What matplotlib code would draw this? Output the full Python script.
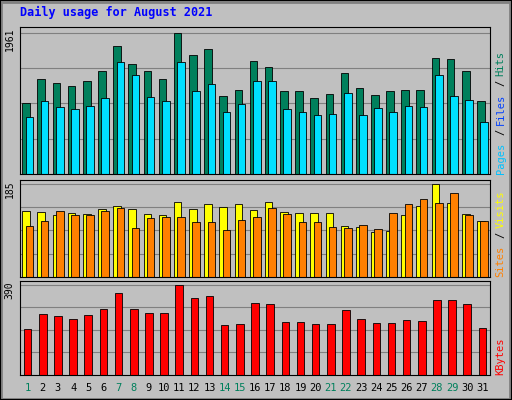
import matplotlib
matplotlib.use("Agg")
import matplotlib.pyplot as plt
import numpy as np
from matplotlib.patches import Rectangle

days = list(range(1, 32))
weekend = [1, 7, 8, 14, 15, 21, 22, 28, 29]
hits = [987,1321,1267,1227,1294,1427,1774,1521,1427,1321,1961,1654,1734,1080,1161,1561,1481,1147,1147,1054,1107,1401,1187,1094,1147,1161,1161,1614,1601,1427,1014]
files = [787,1014,934,907,947,1054,1547,1374,1067,1014,1547,1147,1254,867,974,1294,1294,907,854,814,827,1121,814,920,867,947,934,1374,1080,1027,720]
visits = [130,128,122,126,124,134,140,134,124,122,148,134,144,138,144,132,148,128,126,126,126,102,100,89,92,122,140,185,146,124,112]
sites = [102,112,130,122,122,130,136,98,118,120,120,110,110,94,114,120,136,124,110,110,100,98,104,96,126,144,155,146,167,122,112]
kbytes = [199,263,254,242,259,284,352,284,267,267,390,331,343,216,220,310,305,229,229,220,220,280,242,225,225,237,233,322,322,305,204]

W, H = 512, 400
fig = plt.figure(figsize=(W/100, H/100), dpi=100)
fig.patch.set_facecolor("#C0C0C0")
mono = "DejaVu Sans Mono"
# 3D border
fig.patches.append(Rectangle((1/W, 1/H), 1-3/W, 1-3/H, transform=fig.transFigure,
                             fill=False, edgecolor="#808080", lw=2))
fig.patches.append(Rectangle((0, 0), 1, 1, transform=fig.transFigure,
                             fill=False, edgecolor="black", lw=1.5))

def ax_px(x0, y0, x1, y1):
    return fig.add_axes([x0/W, 1-y1/H, (x1-x0)/W, (y1-y0)/H])

x = np.arange(1, 32)
def panel(y0, y1, series, cols, vmax, labels):
    ax = ax_px(20, y0, 490, y1)
    ax.set_facecolor("#C0C0C0")
    ax.set_xlim(0.5, 31.5)
    ax.set_ylim(0, vmax*1.04)
    for f in (0.25, 0.5, 0.75, 1.0):
        ax.axhline(vmax*f, color="#808080", lw=0.8, zorder=0)
    offs = [-0.1, 0.12] if len(series) == 2 else [0]
    for s, c, o in zip(series, cols, offs):
        ax.bar(x+o, s, width=0.5, color=c, edgecolor="black", lw=0.6, zorder=2)
    ax.set_xticks([]); ax.set_yticks([])
    for sp in ax.spines.values():
        sp.set_color("black"); sp.set_linewidth(0.8)
    ax.text(-0.012, 1.0, str(vmax), transform=ax.transAxes, rotation=90,
            ha="right", va="top", fontsize=7, family=mono)
    parts = []
    for i, (t, c) in enumerate(labels):
        parts.append((t, c))
        if i < len(labels)-1:
            parts.append(("/", "black"))
    pos = 0.0
    for t, c in parts:
        ax.text(1.012, pos, t, transform=ax.transAxes, rotation=90, ha="left",
                va="bottom", fontsize=7.5, family=mono, color=c)
        pos += len(t)*0.048 * (150/(y1-y0)) + 0.02*(150/(y1-y0))
    return ax

panel(27, 174, [hits, files], ["#00805C", "#00E0FF"], 1961,
      [("Pages", "#00C0FF"), ("Files", "#0040FF"), ("Hits", "#00805C")])
panel(180, 277, [visits, sites], ["#FFFF00", "#FF8000"], 185,
      [("Sites", "#FF8000"), ("Visits", "#FFFF00")])
panel(281, 375, [kbytes], ["#FF0000"], 390, [("KBytes", "#FF0000")])

lab = ax_px(20, 380, 490, 396)
lab.set_xlim(0.5, 31.5); lab.axis("off")
for d in days:
    lab.text(d, 0.5, str(d), ha="center", va="center", fontsize=7.5, family=mono,
             color="#00805C" if d in weekend else "black")

fig.text(20/W, 1-12/H, "Daily usage for August 2021", color="#0000FF",
         fontsize=8.5, family=mono, fontweight="bold", va="center")
fig.savefig("out.png", dpi=100, facecolor=fig.get_facecolor())
